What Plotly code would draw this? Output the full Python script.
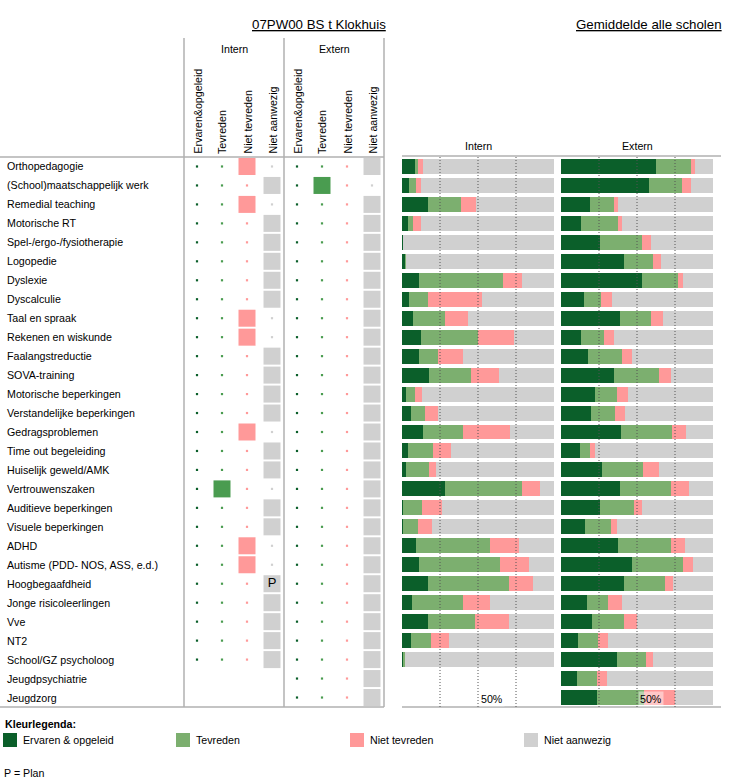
import plotly.graph_objects as go

W, H = 747, 784
FONT = "Liberation Sans, Arial, sans-serif"
FS = 10.67

# ---------------- data ----------------
rows = ["Orthopedagogie", "(School)maatschappelijk werk", "Remedial teaching", "Motorische RT",
        "Spel-/ergo-/fysiotherapie", "Logopedie", "Dyslexie", "Dyscalculie", "Taal en spraak",
        "Rekenen en wiskunde", "Faalangstreductie", "SOVA-training", "Motorische beperkingen",
        "Verstandelijke beperkingen", "Gedragsproblemen", "Time out begeleiding",
        "Huiselijk geweld/AMK", "Vertrouwenszaken", "Auditieve beperkingen", "Visuele beperkingen",
        "ADHD", "Autisme (PDD- NOS, ASS, e.d.)", "Hoogbegaafdheid", "Jonge risicoleerlingen",
        "Vve", "NT2", "School/GZ psycholoog", "Jeugdpsychiatrie", "Jeugdzorg"]

columns = ["Ervaren&opgeleid", "Tevreden", "Niet tevreden", "Niet aanwezig"]
legend_labels = ["Ervaren & opgeleid", "Tevreden", "Niet tevreden", "Niet aanwezig"]

# school's own answers per row (None = not asked)
intern_status = ["Niet tevreden", "Niet aanwezig", "Niet tevreden", "Niet aanwezig", "Niet aanwezig",
                 "Niet aanwezig", "Niet aanwezig", "Niet aanwezig", "Niet tevreden", "Niet tevreden",
                 "Niet aanwezig", "Niet aanwezig", "Niet aanwezig", "Niet aanwezig", "Niet tevreden",
                 "Niet aanwezig", "Niet aanwezig", "Tevreden", "Niet aanwezig", "Niet aanwezig",
                 "Niet tevreden", "Niet tevreden", "Niet aanwezig", "Niet aanwezig", "Niet aanwezig",
                 "Niet aanwezig", "Niet aanwezig", None, None]
extern_status = ["Niet aanwezig", "Tevreden"] + ["Niet aanwezig"] * 27
intern_marks = {"Hoogbegaafdheid": "P"}

# average of all schools (percentages)
intern_ervaren = [8.6, 4.6, 17.2, 4.0, 0.7, 2.0, 11.3, 4.6, 7.3, 12.6, 11.3, 17.9, 2.6, 6.0, 13.9,
                  4.0, 2.6, 28.5, 0.7, 0.7, 9.3, 11.3, 17.2, 6.6, 17.2, 6.0, 0.7, None, None]
intern_tevreden = [2.0, 4.6, 21.9, 3.3, 0.0, 0.7, 55.0, 12.6, 21.2, 37.7, 12.6, 27.8, 6.0, 9.3, 26.5,
                   16.6, 15.2, 50.3, 12.6, 9.9, 48.3, 53.0, 53.0, 33.8, 31.1, 13.2, 1.3, None, None]
intern_niet_tevreden = [3.3, 3.3, 9.9, 5.3, 0.0, 0.0, 12.6, 35.1, 15.2, 23.2, 15.9, 17.9, 4.6, 8.6, 30.5,
                        11.9, 4.6, 11.9, 13.2, 9.3, 19.2, 19.2, 15.9, 17.2, 21.9, 11.9, 0.0, None, None]

extern_ervaren = [62.3, 57.6, 19.2, 13.2, 25.8, 41.7, 53.0, 15.2, 39.1, 13.2, 17.9, 35.1, 22.5, 19.9, 39.7,
                  12.6, 27.2, 39.1, 25.8, 15.9, 37.7, 47.0, 41.7, 17.2, 20.5, 11.3, 37.1, 10.6, 23.8]
extern_tevreden = [23.2, 21.9, 15.9, 24.5, 27.8, 18.5, 23.8, 11.3, 19.9, 15.2, 22.5, 29.1, 14.6, 15.9, 33.1,
                   6.6, 26.5, 33.1, 22.5, 17.2, 34.4, 33.1, 26.5, 13.9, 21.2, 13.2, 18.5, 13.2, 31.1]
extern_niet_tevreden = [2.6, 6.0, 2.6, 2.6, 5.3, 5.3, 3.3, 7.3, 7.9, 6.6, 6.0, 7.9, 7.3, 6.0, 9.3,
                        3.3, 10.6, 11.9, 5.3, 4.0, 9.3, 6.6, 5.3, 9.3, 8.6, 6.6, 4.6, 6.6, 19.9]

grid_ticks = [25, 50, 75]

# ---------------- styling ----------------
bar_colors = ["#0b5f2a", "#7caf6f", "#ff9999", "#d0d0d0"]
mark_colors = ["#0b5f2a", "#4a9c50", "#ff9999", "#d0d0d0"]
LINE = "#b0b0b0"


def px(x):
    return x / W


def py(y):
    return 1 - y / H


def remainder(*series):
    out = []
    for vals in zip(*series):
        out.append(None if vals[0] is None else round(100 - sum(vals), 1))
    return out


fig = go.Figure()

# ---- matrix of the school's own answers ----
for side, statuses in enumerate([intern_status, extern_status]):
    for j, col in enumerate(columns):
        xs_big, ys_big, xs_s, ys_s, txt = [], [], [], [], []
        for r, st in zip(rows, statuses):
            if st is None:
                continue
            xi = side * len(columns) + j
            if st == col:
                xs_big.append(xi)
                ys_big.append(r)
                txt.append(intern_marks.get(r, "") if side == 0 else "")
            else:
                xs_s.append(xi)
                ys_s.append(r)
        fig.add_trace(go.Scatter(x=xs_s, y=ys_s, mode="markers", xaxis="x", yaxis="y",
                                 marker=dict(symbol="square", size=2.2, color=mark_colors[j],
                                             line=dict(width=0)),
                                 showlegend=False, hoverinfo="skip"))
        fig.add_trace(go.Scatter(x=xs_big, y=ys_big, mode="markers+text", xaxis="x", yaxis="y",
                                 text=txt, textposition="middle center",
                                 textfont=dict(family=FONT, size=13, color="black"),
                                 marker=dict(symbol="square", size=17, color=mark_colors[j],
                                             line=dict(width=0)),
                                 showlegend=False, hoverinfo="skip"))

# ---- stacked bars ----
for xa, series in [("x2", [intern_ervaren, intern_tevreden, intern_niet_tevreden]),
                   ("x3", [extern_ervaren, extern_tevreden, extern_niet_tevreden])]:
    allser = series + [remainder(*series)]
    for k, vals in enumerate(allser):
        fig.add_trace(go.Bar(x=vals, y=rows, orientation="h", xaxis=xa, yaxis="y",
                             marker=dict(color=bar_colors[k], line=dict(width=0)),
                             width=0.79, name=legend_labels[k], showlegend=False,
                             hovertemplate="%{y}: %{x}%<extra></extra>"))

hidden = dict(showticklabels=False, showgrid=False, zeroline=False, showline=False, ticks="")
fig.update_layout(
    width=W, height=H, margin=dict(l=0, r=0, t=0, b=0),
    paper_bgcolor="white", plot_bgcolor="rgba(0,0,0,0)",
    barmode="stack", bargap=0,
    font=dict(family=FONT, size=FS, color="black"),
    xaxis=dict(domain=[px(184), px(384)], range=[-0.52, 7.48], **hidden),
    xaxis2=dict(domain=[px(402), px(554)], range=[0, 100], anchor="y", **hidden),
    xaxis3=dict(domain=[px(561), px(713)], range=[0, 100], anchor="y", **hidden),
    yaxis=dict(domain=[py(707), py(157)], type="category", categoryorder="array",
               categoryarray=rows, range=[len(rows) - 0.5, -0.5], **hidden),
)

shapes = []


def pline(x0, y0, x1, y1, color=LINE, width=1.5, dash=None):
    d = dict(type="line", xref="paper", yref="paper", x0=px(x0), y0=py(y0), x1=px(x1), y1=py(y1),
             line=dict(color=color, width=width))
    if dash:
        d["line"]["dash"] = dash
    shapes.append(d)


for xv in (184, 284, 384):
    pline(xv, 38, xv, 707)
pline(0, 157, 384, 157)
pline(0, 707, 384, 707)
pline(402, 156, 721, 156)
pline(402, 707, 721, 707)

for xa in ("x2", "x3"):
    for t in grid_ticks:
        shapes.append(dict(type="line", xref=xa, yref="paper", x0=t, x1=t, y0=py(707), y1=py(157),
                           layer="above", line=dict(color="#555555", width=1, dash="1px,2px")))

# legend swatches
legend_x = [3, 176, 350, 524]
for k, lx in enumerate(legend_x):
    shapes.append(dict(type="rect", xref="paper", yref="paper", x0=px(lx), x1=px(lx + 14),
                       y0=py(747), y1=py(733), fillcolor=bar_colors[k], line=dict(width=0)))

ann = []


def text(x, y, s, xanchor="left", yanchor="middle", size=FS, **kw):
    ann.append(dict(x=px(x), y=py(y), xref="paper", yref="paper", text=s, showarrow=False,
                    xanchor=xanchor, yanchor=yanchor, font=dict(family=FONT, size=size, color="black"),
                    **kw))


text(388, 25, "<u>07PW00 BS t Klokhuis</u>", xanchor="right", size=13.3)
text(724, 25, "<u>Gemiddelde alle scholen</u>", xanchor="right", size=13.3)
text(234, 49, "Intern", xanchor="center")
text(334, 49, "Extern", xanchor="center")
text(478, 146, "Intern", xanchor="center")
text(637, 146, "Extern", xanchor="center")

for side in range(2):
    for j, col in enumerate(columns):
        ann.append(dict(x=side * len(columns) + j, xref="x", y=py(156), yref="paper", text=col,
                        textangle=-90, showarrow=False, xanchor="center", yanchor="bottom",
                        font=dict(family=FONT, size=FS, color="black")))

for r in rows:
    ann.append(dict(x=px(5), xref="paper", y=r, yref="y", text=r, showarrow=False,
                    xanchor="left", yanchor="middle", font=dict(family=FONT, size=FS, color="black")))

for xa in ("x2", "x3"):
    ann.append(dict(x=50, xref=xa, y=py(699), yref="paper", text="50%", showarrow=False,
                    xanchor="left", yanchor="middle", xshift=1, borderpad=1,
                    bgcolor="rgba(255,255,255,0.45)",
                    font=dict(family=FONT, size=FS, color="black")))

text(3, 724, "<b>Kleurlegenda:</b>")
for k, lx in enumerate(legend_x):
    text(lx + 18, 740, legend_labels[k])
text(2, 773, "P = Plan")

fig.update_layout(shapes=shapes, annotations=ann)
fig.write_html("out.html", config={"displayModeBar": False},
               post_script="document.body.style.margin='0';")
